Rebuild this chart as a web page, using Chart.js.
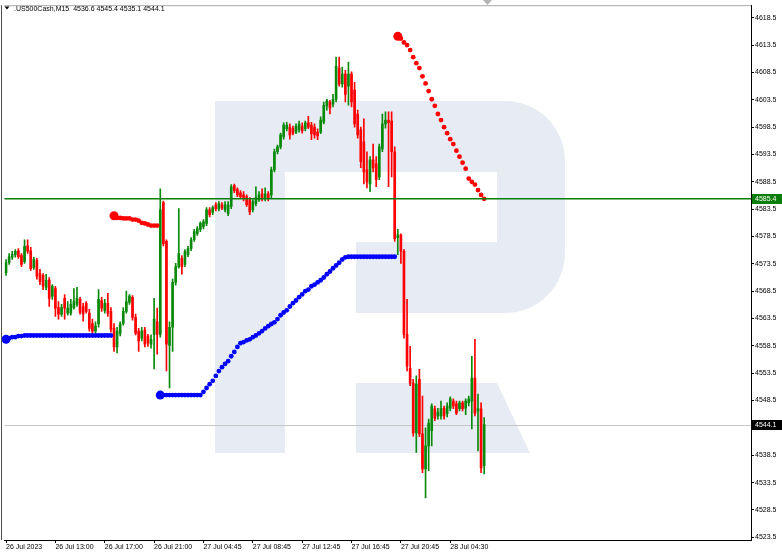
<!DOCTYPE html>
<html lang="en">
<head>
<meta charset="UTF-8">
<title>.US500Cash,M15</title>
<script src="https://cdn.jsdelivr.net/npm/chart.js"></script>
<style>
  html, body { margin: 0; padding: 0; background: #fff; }
  #wrap { position: relative; width: 782px; height: 555px; }
</style>
</head>
<body>
<div id="wrap"><canvas id="chart"></canvas></div>
<script>
const symbol = '.US500Cash,M15';

// M15 candles, oldest first
const opens = [
  4571.9, 4573.7, 4574.7, 4575.2, 4575.9, 4575.0, 4573.9, 4576.8, 4575.9, 4572.8,
  4574.1, 4571.7, 4571.4, 4569.2, 4570.6, 4567.6, 4569.0, 4565.5, 4564.3, 4567.2,
  4564.5, 4564.5, 4565.5, 4566.1, 4567.0, 4565.7, 4566.3, 4564.5, 4562.6, 4561.2,
  4562.5, 4566.8, 4565.0, 4566.3, 4564.8, 4561.7, 4558.3, 4560.8, 4562.6, 4564.8,
  4566.5, 4567.4, 4563.7, 4561.2, 4559.9, 4561.4, 4560.3, 4558.8, 4560.6, 4562.9,
  4560.6, 4584.7, 4577.6, 4558.6, 4561.9, 4570.1, 4573.0, 4574.5, 4573.4, 4575.2,
  4576.3, 4577.9, 4579.0, 4579.8, 4580.3, 4580.9, 4583.4, 4582.9, 4584.3, 4583.6,
  4584.3, 4583.4, 4582.7, 4584.0, 4587.8, 4587.1, 4586.5, 4586.1, 4585.8, 4585.2,
  4583.4, 4584.5, 4585.2, 4586.3, 4585.4, 4586.3, 4586.1, 4590.7, 4594.0, 4594.9,
  4596.7, 4598.2, 4598.5, 4598.3, 4597.6, 4598.0, 4598.7, 4598.2, 4599.3, 4598.9,
  4598.5, 4597.6, 4597.6, 4599.4, 4602.4, 4603.1, 4602.7, 4603.6, 4609.3, 4606.4,
  4608.2, 4606.0, 4608.2, 4605.3, 4600.9, 4598.0, 4595.8, 4590.7, 4588.1, 4592.5,
  4591.8, 4589.4, 4594.5, 4599.1, 4599.8, 4599.6, 4594.0, 4578.3, 4578.8, 4575.8,
  4560.6, 4554.4, 4551.7, 4542.6, 4552.4, 4542.4, 4536.0, 4540.2, 4543.0, 4547.0,
  4545.7, 4545.7, 4547.1, 4546.1, 4547.1, 4548.4, 4547.9, 4547.0, 4548.1, 4547.1,
  4548.1, 4548.4, 4552.6, 4546.6, 4547.0, 4536.6
];
const highs = [
  4574.3, 4575.4, 4575.8, 4576.1, 4576.3, 4575.4, 4577.9, 4577.9, 4576.5, 4574.7,
  4574.5, 4572.5, 4571.7, 4571.6, 4571.0, 4569.7, 4569.4, 4566.6, 4566.1, 4567.9,
  4566.6, 4567.0, 4569.0, 4569.2, 4567.4, 4566.3, 4566.6, 4565.2, 4563.4, 4562.9,
  4568.8, 4567.4, 4567.0, 4568.1, 4565.5, 4562.6, 4561.9, 4562.9, 4565.5, 4568.5,
  4567.9, 4567.7, 4564.3, 4561.7, 4561.9, 4561.9, 4560.6, 4560.5, 4567.2, 4565.4,
  4587.2, 4585.0, 4577.9, 4562.9, 4570.7, 4573.6, 4583.6, 4575.0, 4576.1, 4576.7,
  4578.3, 4579.8, 4580.3, 4581.2, 4581.6, 4583.8, 4583.8, 4584.1, 4584.7, 4584.9,
  4584.7, 4584.9, 4584.9, 4588.0, 4588.1, 4587.4, 4586.9, 4586.7, 4586.1, 4585.6,
  4585.2, 4587.6, 4586.7, 4587.2, 4587.4, 4586.7, 4591.2, 4594.5, 4595.2, 4597.4,
  4599.3, 4599.4, 4599.1, 4598.7, 4599.1, 4599.6, 4599.3, 4599.6, 4600.5, 4599.4,
  4599.1, 4598.2, 4600.4, 4603.1, 4603.6, 4603.4, 4604.5, 4611.3, 4611.3, 4609.5,
  4608.9, 4610.4, 4608.6, 4606.7, 4601.6, 4598.5, 4600.0, 4594.0, 4593.1, 4595.4,
  4593.1, 4595.4, 4600.9, 4601.3, 4601.3, 4601.3, 4594.9, 4579.8, 4579.0, 4576.1,
  4567.0, 4558.4, 4552.4, 4553.0, 4554.2, 4549.3, 4543.5, 4545.1, 4547.9, 4547.5,
  4547.1, 4548.4, 4547.5, 4548.1, 4549.2, 4548.8, 4548.4, 4548.4, 4548.4, 4548.8,
  4549.3, 4556.6, 4559.7, 4549.7, 4548.1, 4545.4
];
const lows = [
  4571.4, 4573.4, 4574.3, 4574.7, 4574.5, 4573.0, 4573.6, 4575.4, 4572.3, 4572.5,
  4570.7, 4569.7, 4568.8, 4568.8, 4565.7, 4567.0, 4563.9, 4563.4, 4563.9, 4563.4,
  4564.1, 4564.1, 4565.2, 4565.7, 4564.3, 4563.0, 4564.5, 4561.2, 4560.8, 4560.8,
  4561.9, 4564.8, 4564.5, 4563.9, 4561.0, 4557.5, 4557.2, 4560.3, 4562.3, 4564.5,
  4566.1, 4563.2, 4560.5, 4557.5, 4559.4, 4558.3, 4558.4, 4558.1, 4554.3, 4557.0,
  4560.1, 4576.8, 4553.9, 4550.8, 4557.5, 4569.6, 4572.7, 4571.6, 4573.0, 4574.8,
  4575.9, 4577.6, 4578.7, 4579.4, 4579.9, 4580.5, 4582.1, 4582.5, 4583.2, 4583.2,
  4583.4, 4583.0, 4582.3, 4583.6, 4586.5, 4585.8, 4585.4, 4585.0, 4584.0, 4582.5,
  4583.0, 4584.1, 4584.9, 4585.0, 4585.0, 4585.0, 4585.6, 4590.3, 4593.6, 4594.5,
  4596.3, 4597.8, 4596.3, 4597.1, 4597.3, 4597.6, 4597.4, 4597.8, 4598.2, 4596.2,
  4596.5, 4596.2, 4597.3, 4599.1, 4601.6, 4600.9, 4602.2, 4603.1, 4606.0, 4605.8,
  4603.1, 4602.5, 4602.2, 4598.5, 4596.5, 4591.1, 4588.1, 4587.4, 4586.7, 4590.3,
  4587.6, 4588.9, 4594.0, 4598.3, 4587.6, 4589.4, 4577.6, 4575.2, 4573.6, 4559.9,
  4553.9, 4551.2, 4542.0, 4539.0, 4541.9, 4535.3, 4530.7, 4535.7, 4540.2, 4544.8,
  4545.1, 4545.1, 4545.1, 4545.5, 4546.6, 4547.0, 4545.9, 4546.6, 4546.6, 4545.9,
  4547.5, 4543.3, 4545.7, 4539.3, 4535.3, 4535.1
];
const closes = [
  4573.7, 4574.8, 4575.2, 4575.8, 4574.8, 4573.4, 4576.7, 4575.8, 4572.6, 4574.3,
  4571.2, 4570.3, 4569.4, 4570.5, 4567.2, 4569.4, 4565.4, 4564.3, 4565.5, 4565.4,
  4565.4, 4566.1, 4566.6, 4567.2, 4564.6, 4564.3, 4564.8, 4561.7, 4561.2, 4562.1,
  4567.0, 4565.4, 4566.3, 4564.5, 4561.5, 4558.3, 4561.2, 4562.5, 4564.8, 4566.6,
  4567.6, 4563.7, 4560.8, 4559.4, 4561.2, 4558.8, 4559.0, 4559.7, 4563.4, 4560.6,
  4583.4, 4577.2, 4558.8, 4561.9, 4570.1, 4573.0, 4575.4, 4573.0, 4575.8, 4576.3,
  4577.9, 4579.4, 4579.9, 4580.9, 4581.2, 4583.4, 4582.5, 4583.8, 4583.6, 4584.5,
  4583.8, 4584.3, 4584.3, 4587.6, 4586.9, 4586.1, 4585.8, 4585.4, 4584.3, 4583.0,
  4584.9, 4585.6, 4586.1, 4585.4, 4586.3, 4585.6, 4590.7, 4594.0, 4594.9, 4597.1,
  4598.9, 4598.9, 4597.1, 4597.4, 4598.7, 4599.1, 4597.8, 4599.3, 4598.5, 4597.3,
  4597.1, 4596.9, 4599.8, 4602.5, 4603.3, 4602.0, 4603.6, 4609.6, 4606.4, 4608.2,
  4604.5, 4608.2, 4603.1, 4599.1, 4597.1, 4592.2, 4590.3, 4588.5, 4592.5, 4591.1,
  4588.9, 4594.9, 4599.1, 4599.8, 4599.3, 4594.0, 4578.1, 4578.8, 4575.8, 4560.6,
  4554.8, 4551.7, 4542.6, 4551.5, 4542.4, 4536.0, 4540.2, 4544.4, 4547.5, 4545.3,
  4546.4, 4547.1, 4545.7, 4547.5, 4548.8, 4547.5, 4546.2, 4548.1, 4547.0, 4548.4,
  4548.8, 4552.6, 4546.2, 4547.0, 4536.2, 4544.1
];

// trailing-stop dots (first dot of each run is the big one)
const stopLowA = [
  4559.7, 4559.9, 4560.1, 4560.1, 4560.3, 4560.3, 4560.4, 4560.4, 4560.4, 4560.4,
  4560.4, 4560.4, 4560.4, 4560.4, 4560.4, 4560.4, 4560.4, 4560.4, 4560.4, 4560.4,
  4560.4, 4560.4, 4560.4, 4560.4, 4560.4, 4560.4, 4560.4, 4560.4, 4560.4, 4560.4,
  4560.4, 4560.4, 4560.4, 4560.4, 4560.4
];
const stopLowAStart = 0;
const stopHighA = [
  4582.3, 4581.9, 4581.9, 4581.8, 4581.8, 4581.8, 4581.6, 4581.6, 4581.4, 4581.0,
  4580.9, 4580.7, 4580.5, 4580.5, 4580.5
];
const stopHighAStart = 35;
const stopLowB = [
  4549.5, 4549.5, 4549.5, 4549.5, 4549.5, 4549.5, 4549.5, 4549.5, 4549.5, 4549.5,
  4549.5, 4549.5, 4549.5, 4549.5, 4550.1, 4550.8, 4551.5, 4552.1, 4553.0, 4553.9,
  4554.6, 4555.2, 4555.7, 4556.6, 4557.4, 4558.3, 4559.0, 4559.2, 4559.5, 4559.7,
  4560.1, 4560.4, 4560.8, 4561.2, 4561.7, 4562.1, 4562.5, 4562.8, 4563.4, 4564.1,
  4564.6, 4565.0, 4565.7, 4566.3, 4566.8, 4567.4, 4567.9, 4568.5, 4568.8, 4569.4,
  4569.7, 4570.1, 4570.5, 4571.0, 4571.6, 4572.1, 4572.7, 4573.2, 4573.7, 4574.3,
  4574.7, 4574.8, 4574.8, 4574.8, 4574.8, 4574.8, 4574.8, 4574.8, 4574.8, 4574.8,
  4574.8, 4574.8, 4574.8, 4574.8, 4574.8, 4574.8, 4574.8
];
const stopLowBStart = 50;
const stopHighB = [
  4615.1, 4614.7, 4614.0, 4613.5, 4612.6, 4611.3, 4610.2, 4609.3, 4607.8, 4606.5,
  4605.1, 4603.6, 4602.4, 4600.9, 4599.8, 4598.5, 4597.4, 4596.3, 4595.4, 4594.2,
  4593.1, 4592.0, 4590.9, 4589.1, 4588.5, 4588.0, 4587.0, 4586.1, 4585.4
];
const stopHighBStart = 127;

const levelLine = 4585.4;
const bidPrice = 4544.1;

const timeLabels = ['26 Jul 2023', '26 Jul 13:00', '26 Jul 17:00', '26 Jul 21:00', '27 Jul 04:45',
                    '27 Jul 08:45', '27 Jul 12:45', '27 Jul 16:45', '27 Jul 20:45', '28 Jul 04:30'];
const timeTickBars = [0, 16, 32, 48, 64, 80, 96, 112, 128, 144];
const priceTicks = [4523.5, 4528.5, 4533.5, 4538.5, 4543.5, 4548.5, 4553.5, 4558.5, 4563.5, 4568.5,
                    4573.5, 4578.5, 4583.5, 4588.5, 4593.5, 4598.5, 4603.5, 4608.5, 4613.5, 4618.5];
const priceMin = 4523.0;
const priceMax = 4620.8;
const totalSlots = 242; // bars that fit across the window (empty shift on the right)

const GREEN = '#0a8a0a';
const RED = '#ff0000';
const FONT = 'Liberation Sans, Arial, sans-serif';

const slots = Array.from({ length: totalSlots }, (_, i) => i);
const candleColors = closes.map((c, i) => (c >= opens[i] ? GREEN : RED));
const wicks = highs.map((h, i) => [lows[i], h]);
const bodies = opens.map((o, i) => [Math.min(o, closes[i]), Math.max(o, closes[i])]);

function placeRun(start, values) {
  const arr = new Array(totalSlots).fill(null);
  values.forEach((v, k) => { arr[start + k] = v; });
  return arr;
}
function dots(start, values, color) {
  return {
    type: 'line',
    data: placeRun(start, values),
    showLine: false,
    pointRadius: slots.map(i => (i === start ? 4.5 : 2.4)),
    pointBackgroundColor: color,
    pointBorderWidth: 0,
    order: 0
  };
}

const decor = {
  id: 'decor',
  beforeDatasetsDraw(chart) {
    const { ctx, chartArea: a, scales: { y } } = chart;
    ctx.save();
    ctx.beginPath();
    ctx.rect(a.left, a.top, a.right - a.left, a.bottom - a.top);
    ctx.clip();
    // watermark logo
    ctx.fillStyle = '#e7ecf4';
    ctx.fillRect(215, 101, 70, 352);
    ctx.beginPath();
    ctx.moveTo(285, 101);
    ctx.lineTo(505, 101);
    ctx.arcTo(565, 101, 565, 161, 60);
    ctx.lineTo(565, 253);
    ctx.arcTo(565, 313, 505, 313, 60);
    ctx.lineTo(356, 313);
    ctx.lineTo(356, 242);
    ctx.lineTo(497, 242);
    ctx.lineTo(497, 172);
    ctx.lineTo(285, 172);
    ctx.closePath();
    ctx.fill();
    ctx.beginPath();
    ctx.moveTo(356, 383);
    ctx.lineTo(497, 383);
    ctx.lineTo(530, 453);
    ctx.lineTo(356, 453);
    ctx.closePath();
    ctx.fill();
    // bid line
    const by = Math.round(y.getPixelForValue(bidPrice)) + 0.5;
    ctx.strokeStyle = '#c6c6c6';
    ctx.lineWidth = 1;
    ctx.beginPath();
    ctx.moveTo(a.left, by);
    ctx.lineTo(a.right, by);
    ctx.stroke();
    ctx.restore();
  },
  afterDatasetsDraw(chart) {
    const { ctx, chartArea: a, scales: { y } } = chart;
    const ly = y.getPixelForValue(levelLine);
    ctx.save();
    ctx.strokeStyle = '#0b7d0b';
    ctx.lineWidth = 1.5;
    ctx.beginPath();
    ctx.moveTo(a.left, ly);
    ctx.lineTo(a.right, ly);
    ctx.stroke();
    ctx.restore();
  },
  afterDraw(chart) {
    const { ctx, chartArea: a, scales: { y } } = chart;
    const last = closes.length - 1;
    ctx.save();
    // frame
    ctx.strokeStyle = '#a8a8a8';
    ctx.lineWidth = 1;
    ctx.beginPath();
    ctx.moveTo(a.left, a.top + 0.5);
    ctx.lineTo(a.right, a.top + 0.5);
    ctx.stroke();
    ctx.strokeStyle = '#505050';
    ctx.beginPath();
    ctx.moveTo(1.5, a.top);
    ctx.lineTo(1.5, a.bottom);
    ctx.stroke();
    // shift marker
    ctx.fillStyle = '#b4b4b4';
    ctx.beginPath();
    ctx.moveTo(483, 0);
    ctx.lineTo(492, 0);
    ctx.lineTo(487.5, 5);
    ctx.closePath();
    ctx.fill();
    // header
    ctx.fillStyle = '#000';
    ctx.beginPath();
    ctx.moveTo(4.5, 6.5);
    ctx.lineTo(9.5, 6.5);
    ctx.lineTo(7, 9.5);
    ctx.closePath();
    ctx.fill();
    ctx.font = '7px ' + FONT;
    ctx.textBaseline = 'alphabetic';
    ctx.textAlign = 'left';
    const ohlc = [opens[last], highs[last], lows[last], closes[last]].map(v => v.toFixed(1)).join(' ');
    ctx.fillText(symbol + '  ' + ohlc, 14, 10.5);
    // price boxes on the axis
    const boxes = [[levelLine, '#0b7d0b'], [bidPrice, '#000']];
    ctx.textBaseline = 'middle';
    boxes.forEach(([v, col]) => {
      const py = Math.round(y.getPixelForValue(v));
      ctx.fillStyle = col;
      ctx.fillRect(a.right + 1, py - 5, 30, 10);
      ctx.fillStyle = '#fff';
      ctx.fillText(v.toFixed(1), a.right + 4, py + 0.5);
    });
    ctx.restore();
  }
};

Chart.defaults.font.family = FONT;
Chart.defaults.font.size = 7;
Chart.defaults.color = '#000';

new Chart(document.getElementById('chart'), {
  type: 'bar',
  data: {
    labels: slots,
    datasets: [
      dots(stopLowAStart, stopLowA, '#0000ff'),
      dots(stopHighAStart, stopHighA, '#ff0000'),
      dots(stopLowBStart, stopLowB, '#0000ff'),
      dots(stopHighBStart, stopHighB, '#ff0000'),
      { type: 'bar', data: bodies, backgroundColor: candleColors, barThickness: 2,
        minBarLength: 1, grouped: false, order: 1 },
      { type: 'bar', data: wicks, backgroundColor: candleColors, barThickness: 1,
        grouped: false, order: 2 }
    ]
  },
  options: {
    responsive: true,
    maintainAspectRatio: false,
    animation: false,
    layout: { padding: { left: 2, top: 3, right: 0, bottom: 0 } },
    plugins: { legend: { display: false }, tooltip: { enabled: false } },
    scales: {
      x: {
        type: 'category',
        offset: true,
        afterBuildTicks: s => { s.ticks = timeTickBars.map(v => ({ value: v })); },
        afterFit: s => { s.height = 15; },
        ticks: {
          autoSkip: false, maxRotation: 0, align: 'start', padding: 0,
          callback: v => timeLabels[timeTickBars.indexOf(v)]
        },
        grid: { drawOnChartArea: false, tickLength: 3, color: '#000', offset: false },
        border: { color: '#000' }
      },
      y: {
        position: 'right',
        min: priceMin,
        max: priceMax,
        afterBuildTicks: s => { s.ticks = priceTicks.map(v => ({ value: v })); },
        afterFit: s => { s.width = 31; },
        ticks: { padding: 1, callback: v => v.toFixed(1) },
        grid: { drawOnChartArea: false, tickLength: 3, color: '#000' },
        border: { color: '#000' }
      }
    }
  },
  plugins: [decor]
});
</script>
</body>
</html>
